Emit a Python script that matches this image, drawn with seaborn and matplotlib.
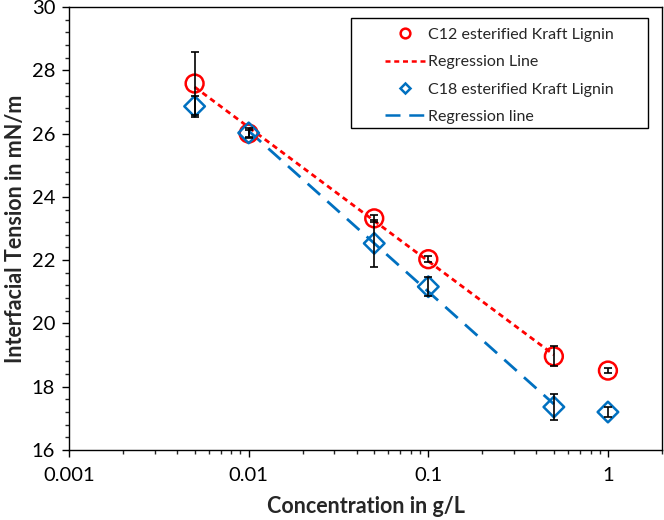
import numpy as np
import pandas as pd
import matplotlib.pyplot as plt
import seaborn as sns
from matplotlib.lines import Line2D
from matplotlib.patches import Rectangle
from matplotlib.ticker import MultipleLocator, FixedLocator, FixedFormatter

# data
conc = [0.005, 0.01, 0.05, 0.1, 0.5, 1.0]
c12_tension = [27.58, 26.0, 23.32, 22.03, 18.96, 18.51]
c12_err = [1.0, 0.12, 0.1, 0.1, 0.32, 0.08]
c18_tension = [26.86, 26.02, 22.53, 21.16, 17.36, 17.2]
c18_err = [0.33, 0.15, 0.75, 0.3, 0.42, 0.15]

# regression ranges used in the figure
c12_fit_conc = [0.005, 0.01, 0.05, 0.1, 0.5]
c18_fit_conc = [0.01, 0.05, 0.1, 0.5]

red = "#FF0000"
blue = "#0070C0"

sns.set_style("ticks")
plt.rcParams["font.family"] = ["Lato", "DejaVu Sans"]

df = pd.DataFrame({"conc": conc, "c12": c12_tension, "c18": c18_tension})

fig = plt.figure(figsize=(6.64, 5.2), dpi=100)
ax = fig.add_axes([0.104, 0.1346, 0.893, 0.852])


def fit_line(xs, full_x, full_y):
    idx = [full_x.index(v) for v in xs]
    lx = np.log10(xs)
    ly = np.array(full_y)[idx]
    b, a = np.polyfit(lx, ly, 1)
    return pd.DataFrame({"x": xs, "y": a + b * lx})


c12_fit = fit_line(c12_fit_conc, conc, c12_tension)
c18_fit = fit_line(c18_fit_conc, conc, c18_tension)

# regression lines
sns.lineplot(data=c12_fit, x="x", y="y", ax=ax, color=red, lw=2,
             zorder=2).lines[-1].set_dashes([2, 1.5])
sns.lineplot(data=c18_fit, x="x", y="y", ax=ax, color=blue, lw=2,
             zorder=2).lines[-1].set_dashes([6, 3.5])

# error bars
ax.errorbar(conc, c12_tension, yerr=c12_err, fmt="none", ecolor="black",
            elinewidth=1.2, capsize=3, capthick=1.2, zorder=4)
ax.errorbar(conc, c18_tension, yerr=c18_err, fmt="none", ecolor="black",
            elinewidth=1.2, capsize=3, capthick=1.2, zorder=4)

# markers
sns.scatterplot(data=df, x="conc", y="c12", ax=ax, marker="o", s=165,
                facecolors="none", edgecolor=red, linewidth=1.8, zorder=3)
sns.scatterplot(data=df, x="conc", y="c18", ax=ax, marker="D", s=110,
                facecolors="none", edgecolor=blue, linewidth=1.8, zorder=3)

ax.set_xscale("log")
ax.set_xlim(0.001, 2.0)
ax.set_ylim(16, 30)
ax.yaxis.set_major_locator(MultipleLocator(2))
ax.yaxis.set_minor_locator(MultipleLocator(0.4))
ax.xaxis.set_major_locator(FixedLocator([0.001, 0.01, 0.1, 1]))
ax.xaxis.set_major_formatter(FixedFormatter(["0.001", "0.01", "0.1", "1"]))

ax.tick_params(axis="both", which="major", direction="out", length=5,
               width=1, labelsize=14.5, colors="black")
ax.tick_params(axis="both", which="minor", direction="out", length=3, width=1)
ax.tick_params(axis="x", pad=7)
ax.tick_params(axis="y", pad=5)

for s in ax.spines.values():
    s.set_color("black")
    s.set_linewidth(1)

ax.set_xlabel("Concentration in g/L", fontsize=15.5, fontweight="bold", labelpad=9)
ax.set_ylabel("Interfacial Tension in mN/m", fontsize=15.5, fontweight="bold", labelpad=4)

# legend: frame drawn separately, entries placed inside
ax.add_patch(Rectangle((0.4755, 0.727), 0.5005, 0.248, transform=ax.transAxes,
                       fill=True, facecolor="white", edgecolor="black", lw=1, zorder=5))
handles = [
    Line2D([], [], ls="none", marker="o", ms=7, mfc="none", mec=red, mew=1.8),
    Line2D([], [], color=red, lw=1.8, dashes=[2, 1.5]),
    Line2D([], [], ls="none", marker="D", ms=5.5, mfc="none", mec=blue, mew=1.8),
    Line2D([], [], color=blue, lw=1.8, dashes=[6, 3.5]),
]
labels = ["C12 esterified Kraft Lignin", "Regression Line",
          "C18 esterified Kraft Lignin", "Regression line"]
leg = ax.legend(handles, labels, loc="upper left", bbox_to_anchor=(0.533, 0.953),
                fontsize=11.5, frameon=False, handlelength=2.5,
                handletextpad=0.2, borderpad=0, borderaxespad=0, labelspacing=0.82)
leg.set_zorder(6)

fig.savefig("out.png", dpi=100)
